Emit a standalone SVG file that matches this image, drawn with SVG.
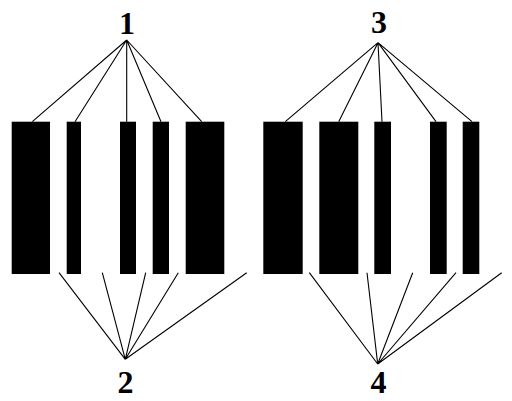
<svg xmlns="http://www.w3.org/2000/svg" width="512" height="401" viewBox="0 0 512 401">
<style>
.bar{fill:#000}
.lbl{font-family:"Liberation Serif","Times New Roman",serif;font-weight:bold;font-size:32px;fill:#000;text-anchor:middle}
.ln{stroke:#000;stroke-width:1.1;fill:none}
</style>
<rect width="512" height="401" fill="#fff"/>
<g id="connectors">
<path class="ln" d="M126.7,40 L32.3,121.7 M126.7,40 L75,121.7 M126.7,40 L126.7,121.7 M126.7,40 L161,121.7 M126.7,40 L201.7,121.7"/>
<path class="ln" d="M125.3,359.3 L59,272.7 M125.3,359.3 L102.3,272.7 M125.3,359.3 L145.7,272.7 M125.3,359.3 L178.3,272.7 M125.3,359.3 L246.7,272.7"/>
<path class="ln" d="M378,42.7 L285.3,121.7 M378,42.7 L338.7,121.7 M378,42.7 L382,121.7 M378,42.7 L436,121.7 M378,42.7 L472,121.7"/>
<path class="ln" d="M377.7,364 L309.3,272.7 M377.7,364 L367,272.7 M377.7,364 L412.7,272.7 M377.7,364 L456,272.7 M377.7,364 L501.7,272.7"/>
</g>
<g id="barcode-left">
<rect class="bar" x="11.7" y="121.7" width="38.3" height="152.3"/>
<rect class="bar" x="66.7" y="121.7" width="14.3" height="152.3"/>
<rect class="bar" x="120" y="121.7" width="16" height="152.3"/>
<rect class="bar" x="152.7" y="121.7" width="16.3" height="152.3"/>
<rect class="bar" x="185.7" y="121.7" width="38.6" height="152.3"/>
</g>
<g id="barcode-right">
<rect class="bar" x="263.3" y="121.7" width="39.4" height="152.3"/>
<rect class="bar" x="319.3" y="121.7" width="39" height="152.3"/>
<rect class="bar" x="374.3" y="121.7" width="16.7" height="152.3"/>
<rect class="bar" x="430" y="121.7" width="16.7" height="152.3"/>
<rect class="bar" x="462.7" y="121.7" width="16.6" height="152.3"/>
</g>
<g id="label-1"><text class="lbl" x="127" y="34">1</text></g>
<g id="label-2"><text class="lbl" x="125.5" y="393">2</text></g>
<g id="label-3"><text class="lbl" x="379" y="33">3</text></g>
<g id="label-4"><text class="lbl" x="378.5" y="393">4</text></g>
</svg>
